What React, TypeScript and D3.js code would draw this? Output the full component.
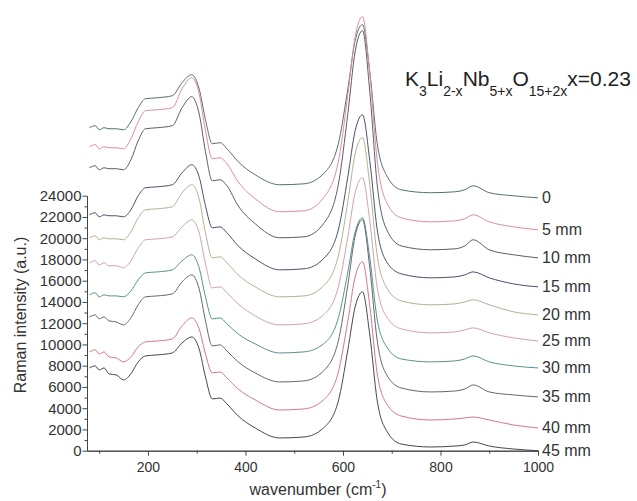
import { useEffect, useRef } from "react";
import * as d3 from "d3";

// Raman spectra of K3Li2-xNb5+xO15+2x (x=0.23), stacked by position along the crystal
const wavenumber = [
  80, 92, 100, 110, 120, 135, 150, 165, 180, 195, 220, 250, 270, 290, 305, 318, 332, 348, 362, 385,
  420, 470, 520, 560, 590, 610, 625, 640, 655, 670, 690, 720, 780, 830, 850, 867, 900, 950, 1000,
];

const int0mm = [30400, 30590, 30210, 30400, 30300, 30300, 30210, 30960, 32280, 33130, 33220, 33410, 34640, 35390, 34070, 31150, 28890, 28990, 28420, 27200, 25970, 25030, 25120, 26070, 28800, 34070, 38590, 40100, 35670, 28990, 25860, 24550, 24280, 24370, 24560, 24930, 24280, 23990, 23800];
const int5mm = [28610, 28800, 28420, 28610, 28510, 28510, 28420, 29360, 30960, 32000, 32090, 32280, 34070, 35110, 33600, 30120, 27480, 27570, 27010, 25310, 23710, 22490, 22580, 23800, 27100, 33510, 38970, 40850, 35490, 27380, 23310, 21910, 21540, 21640, 21830, 22200, 21540, 21070, 20790];
const int10mm = [26630, 26820, 26440, 26630, 26540, 26540, 26440, 27380, 29170, 30300, 30400, 30590, 32280, 33320, 31720, 28140, 25400, 25500, 24940, 23050, 21360, 20040, 20130, 21360, 24930, 31720, 37560, 39540, 33790, 25120, 20770, 19270, 18910, 19000, 19280, 19850, 18910, 18440, 18150];
const int15mm = [22200, 22390, 22010, 22200, 22110, 22110, 22010, 22670, 23990, 24750, 24840, 25030, 26160, 26910, 25780, 23050, 20980, 21070, 20510, 19280, 18060, 17020, 17120, 18060, 20700, 25780, 30120, 31620, 27290, 20880, 17750, 16640, 16270, 16360, 16550, 16830, 16270, 15700, 15420];
const int20mm = [20040, 20220, 19850, 20040, 19940, 19940, 19850, 20600, 21920, 22670, 22770, 22960, 24280, 25030, 23710, 20510, 18150, 18250, 17680, 16550, 15420, 14480, 14570, 15510, 18250, 23430, 27950, 29460, 25030, 18440, 15310, 14090, 13730, 13820, 14010, 14200, 13730, 13070, 12780];
const int25mm = [17680, 17870, 17490, 17680, 17400, 17400, 17210, 17870, 19090, 19850, 19940, 20130, 21070, 21730, 20510, 17590, 15320, 15420, 14860, 13820, 12690, 11840, 11940, 12780, 15330, 20130, 24280, 25690, 21640, 15420, 12570, 11460, 11090, 11180, 11370, 11560, 11090, 10620, 10330];
const int30mm = [14670, 14860, 14480, 14670, 14570, 14570, 14480, 15040, 16080, 16740, 16830, 17020, 17870, 18440, 17210, 14480, 12400, 12500, 11940, 10990, 10050, 9200, 9300, 10050, 12410, 16830, 20600, 21920, 18150, 12410, 9750, 8630, 8360, 8450, 8640, 8920, 8360, 7980, 7790];
const int35mm = [12590, 12780, 12410, 12590, 12220, 12120, 11840, 12500, 13730, 14480, 14570, 14760, 15890, 16550, 15230, 12220, 9860, 9960, 9390, 8360, 7320, 6470, 6570, 7510, 10240, 15610, 20220, 21730, 17210, 10430, 7110, 5900, 5530, 5620, 5810, 6190, 5530, 5250, 5060];
const int40mm = [9300, 9490, 9110, 9300, 8830, 8730, 8360, 8830, 9770, 10240, 10330, 10520, 11750, 12500, 11460, 9110, 7320, 7410, 6850, 5810, 4780, 3830, 3930, 4780, 7320, 12220, 16360, 17780, 13630, 7320, 4380, 3260, 2890, 2990, 3080, 3170, 2890, 2420, 2140];
const int45mm = [7790, 7980, 7600, 7790, 7230, 7130, 6660, 7230, 8360, 8920, 9020, 9200, 10150, 10710, 9580, 6940, 4870, 4960, 4400, 3270, 2140, 1200, 1290, 2140, 4590, 9490, 13540, 14950, 10900, 4780, 1830, 620, 350, 440, 540, 820, 440, 160, 0];

const seriesLabels = ["0", "5 mm", "10 mm", "15 mm", "20 mm", "25 mm", "30 mm", "35 mm", "40 mm", "45 mm"];
const seriesColors = ["#566f72", "#dc8f9d", "#5c5c6c", "#48526c", "#b0b391", "#d3a2ae", "#589290", "#64676f", "#d4788a", "#46464f"];
const series = [int0mm, int5mm, int10mm, int15mm, int20mm, int25mm, int30mm, int35mm, int40mm, int45mm];

const xTicks = [200, 400, 600, 800, 1000];
const xMinorTicks = [100, 300, 500, 700, 900];
const yTicks = [0, 2000, 4000, 6000, 8000, 10000, 12000, 14000, 16000, 18000, 20000, 22000, 24000];
const yMinorTicks = [1000, 3000, 5000, 7000, 9000, 11000, 13000, 15000, 17000, 19000, 21000, 23000];

const FONT = "'Liberation Sans', Arial, sans-serif";

export default function App() {
  const xAxisRef = useRef<SVGGElement>(null);
  const yAxisRef = useRef<SVGGElement>(null);

  const width = 637;
  const height = 501;

  const x = d3.scaleLinear().domain([75, 1000]).range([87, 538]);
  const y = d3.scaleLinear().domain([0, 24000]).range([450.7, 195.7]);

  const line = d3
    .line<number>()
    .x((_, i) => x(wavenumber[i]))
    .y((d) => y(d))
    .curve(d3.curveMonotoneX);

  useEffect(() => {
    const gx = d3.select(xAxisRef.current);
    gx.selectAll("*").remove();
    gx.append("g").call(
      d3.axisBottom(x).tickValues(xMinorTicks).tickSize(3).tickSizeOuter(0).tickFormat(() => "")
    );
    gx.append("g").call(
      d3.axisBottom(x).tickValues(xTicks).tickSize(5).tickSizeOuter(0).tickPadding(6).tickFormat(d3.format("d"))
    );
    gx.selectAll("text").attr("font-size", 14).attr("font-family", FONT).attr("fill", "#333");

    const gy = d3.select(yAxisRef.current);
    gy.selectAll("*").remove();
    gy.append("g").call(
      d3.axisLeft(y).tickValues(yMinorTicks).tickSize(2.5).tickSizeOuter(0).tickFormat(() => "")
    );
    gy.append("g").call(
      d3.axisLeft(y).tickValues(yTicks).tickSize(4.5).tickSizeOuter(0).tickPadding(1).tickFormat(d3.format("d"))
    );
    gy.selectAll("text").attr("font-size", 15).attr("font-family", FONT).attr("fill", "#333");

    [gx, gy].forEach((g) => {
      g.selectAll("path.domain").attr("stroke", "#444");
      g.selectAll("line").attr("stroke", "#444");
    });
  }, []);

  return (
    <svg
      width={width}
      height={height}
      style={{ position: "absolute", left: 0, top: 0, background: "#fff" }}
      fontFamily={FONT}
    >
      <rect width={width} height={height} fill="#fff" />

      {series.map((values, i) => (
        <path
          key={seriesLabels[i]}
          d={line(values) ?? ""}
          fill="none"
          stroke={seriesColors[i]}
          strokeWidth={1}
        />
      ))}

      <g ref={xAxisRef} transform="translate(0,450.7)" />
      <g ref={yAxisRef} transform="translate(87,0)" />

      {series.map((values, i) => (
        <text
          key={"lbl" + seriesLabels[i]}
          x={542}
          y={y(values[values.length - 1]) + 5.5}
          fontSize={16}
          fill="#333"
        >
          {seriesLabels[i]}
        </text>
      ))}

      <text x={318} y={495} fontSize={16} fill="#333" textAnchor="middle">
        wavenumber (cm
        <tspan fontSize={10} dy={-7}>-1</tspan>
        <tspan dy={7}>)</tspan>
      </text>

      <text transform="translate(26,315) rotate(-90)" fontSize={16} fill="#333" textAnchor="middle">
        Raman intensity (a.u.)
      </text>

      <text x={405} y={86} fontSize={21} fill="#222">
        K<tspan fontSize={14} dy={10}>3</tspan>
        <tspan dy={-10}>Li</tspan>
        <tspan fontSize={14} dy={10}>2-x</tspan>
        <tspan dy={-10}>Nb</tspan>
        <tspan fontSize={14} dy={10}>5+x</tspan>
        <tspan dy={-10}>O</tspan>
        <tspan fontSize={14} dy={10}>15+2x</tspan>
        <tspan dy={-10}>x=0.23</tspan>
      </text>
    </svg>
  );
}
